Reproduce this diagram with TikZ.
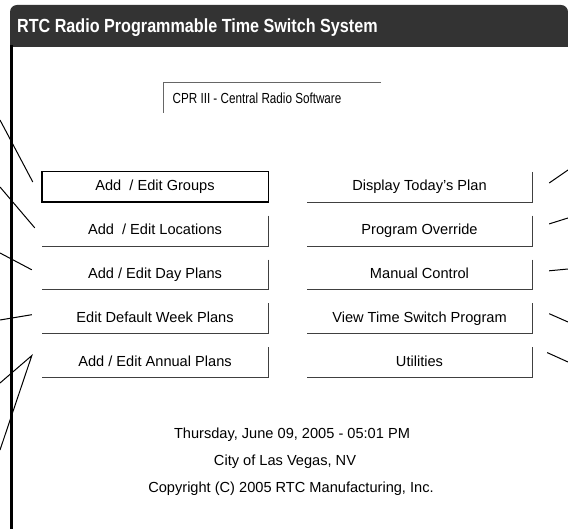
\documentclass[tikz,border=0pt]{standalone}
\usepackage{fontspec}
\setmainfont{Liberation Sans}
\usetikzlibrary{positioning}
\tikzset{
  btn/.style={minimum width=226pt, minimum height=30pt, inner sep=0pt, text height=10.5pt, text depth=3pt, font=\fontsize{14.6}{16}\selectfont},
  shade/.style={draw=black!75, line width=1pt},
  lead/.style={line width=1pt},
  label/.style={inner sep=0pt, font=\fontsize{14.6}{16}\selectfont}
}

\begin{document}
\begin{tikzpicture}[x=1pt,y=-1pt]
\useasboundingbox (0,0) rectangle (568,529);

%title bar
\fill[black!80] (10,47) [rounded corners=7pt] |- (568,5) [sharp corners] -- (568,47) -- cycle;
\node[anchor=west, inner sep=0pt, text=white, xscale=0.85, font=\bfseries\fontsize{19}{20}\selectfont] (title) at (17,28) {RTC Radio Programmable Time Switch System};
\draw[line width=3pt] (11.5,45) -- (11.5,529);

%subtitle
\draw[black!60, line width=0.8pt] (381,82) -- (163,82) -- (163,113);
\node[label, xscale=0.8] (sub) at (257,98) {CPR III - Central Radio Software};

%left column
\node[btn] (grp) at (155,187) {Add\ \ / Edit Groups};
\node[btn, below=13.5pt of grp] (loc) {Add\ \ / Edit Locations};
\node[btn, below=13.5pt of loc] (day) {Add / Edit Day Plans};
\node[btn, below=13.5pt of day] (week) {Edit Default Week Plans};
\node[btn, below=13.5pt of week] (ann) {Add / Edit Annual Plans};

%right column
\node[btn, minimum width=225pt] (today) at (419.5,187) {Display Today's Plan};
\node[btn, minimum width=225pt, below=13.5pt of today] (over) {Program Override};
\node[btn, minimum width=225pt, below=13.5pt of over] (man) {Manual Control};
\node[btn, minimum width=225pt, below=13.5pt of man] (view) {View Time Switch Program};
\node[btn, minimum width=225pt, below=13.5pt of view] (util) {Utilities};

%button edges
\draw[line width=1.4pt] (grp.north west) rectangle (grp.south east);
\foreach \b in {loc,day,week,ann,today,over,man,view,util}
  \draw[shade] (\b.north east) -- (\b.south east) -- (\b.south west);

%leaders left
\coordinate (l1) at (0,120);
\coordinate (l2) at (0,187);
\coordinate (l3) at (0,253);
\coordinate (l4) at (0,320);
\coordinate (l5) at (0,383);
\coordinate (l6) at (0,450);
\draw[lead] (l1) -- ([xshift=-9pt,yshift=5pt]grp.west);
\draw[lead] (l2) -- ([xshift=-7pt,yshift=3pt]loc.west);
\draw[lead] (l3) -- ([xshift=-10pt,yshift=5pt]day.west);
\draw[lead] (l4) -- ([xshift=-10pt,yshift=4pt]week.west);
\draw[lead] (l5) -- ([xshift=-10pt,yshift=7pt]ann.west) -- (l6);

%leaders right
\coordinate (r1) at (568,170);
\coordinate (r2) at (568,218);
\coordinate (r3) at (568,269);
\coordinate (r4) at (568,322);
\coordinate (r5) at (568,362);
\draw[lead] ([xshift=17pt,yshift=4pt]today.east) -- (r1);
\draw[lead] ([xshift=17pt,yshift=7pt]over.east) -- (r2);
\draw[lead] ([xshift=17pt,yshift=4pt]man.east) -- (r3);
\draw[lead] ([xshift=17pt,yshift=5pt]view.east) -- (r4);
\draw[lead] ([xshift=15pt,yshift=10pt]util.east) -- (r5);

%footer
\node[label] (date) at (292,435) {Thursday, June 09, 2005 - 05:01 PM};
\node[label] (city) at (285,462) {City of Las Vegas, NV};
\node[label] (copy) at (291,489) {Copyright (C) 2005 RTC Manufacturing, Inc.};
\end{tikzpicture}
\end{document}
